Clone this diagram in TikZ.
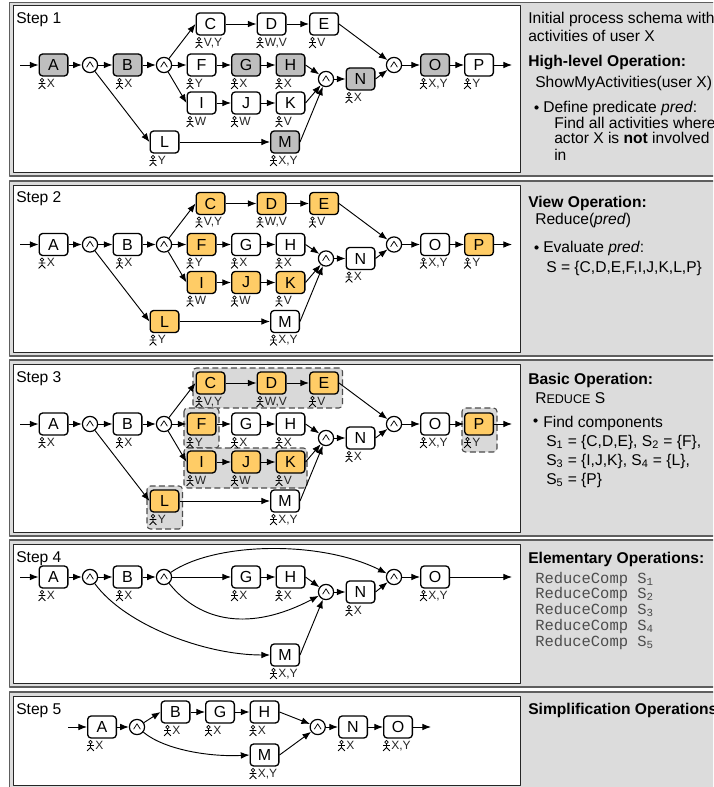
\documentclass[tikz,border=0pt]{standalone}
\usepackage{fontspec}
\setmainfont{Liberation Sans}
\setmonofont{Liberation Mono}
\usetikzlibrary{arrows.meta,calc}
\definecolor{panelgray}{HTML}{DCDCDC}
\definecolor{framegray}{HTML}{5E5E5E}
\definecolor{nodegray}{HTML}{BEBEBE}
\definecolor{nodeorange}{HTML}{FFCC66}
\tikzset{
  every picture/.append style={line join=round},
  outerframe/.style={fill=panelgray,draw=framegray,line width=1.2pt},
  innerframe/.style={fill=white,draw=black!85,line width=.7pt},
  proc/.style={draw=black,line width=1pt,rounded corners=2.6pt,minimum width=21.5pt,minimum height=16.5pt,inner sep=0pt,font=\fontsize{12}{13}\selectfont},
  plainproc/.style={proc,fill=white},
  greyproc/.style={proc,fill=nodegray},
  orangeproc/.style={proc,fill=nodeorange},
  gate/.style={circle,draw=black,line width=.9pt,fill=white,minimum size=11.4pt,inner sep=0pt,
    path picture={\draw[line width=.55pt] ([shift={(-3.4,2.2)}]path picture bounding box.center) -- ([shift={(0,-3.2)}]path picture bounding box.center) -- ([shift={(3.4,2.2)}]path picture bounding box.center);}},
  flow/.style={draw=black,line width=.7pt,-{Latex[length=6.5pt,width=5pt]}},
  comp/.style={fill=black!15,draw=black!70,line width=.8pt,dash pattern=on 4.5pt off 2.5pt,rounded corners=2.6pt},
  acttxt/.style={anchor=base west,inner sep=0pt,text=black!85,font=\fontsize{9}{11}\selectfont},
  steptxt/.style={anchor=base west,inner sep=0pt,font=\fontsize{11.7}{13}\selectfont},
  desc/.style={anchor=base west,inner sep=0pt,font=\fontsize{11.7}{13}\selectfont},
  codetxt/.style={anchor=base west,inner sep=0pt,text=black!70,font=\ttfamily\fontsize{11.6}{13}\selectfont},
  actor/.pic={
    \draw[line width=.55pt,black] (0,-3.4) circle (1.8);
    \draw[line width=.55pt,black] (0,-1.6) -- (0,2) (-3.4,0) -- (3.4,0) (-3.4,5.4) -- (0,2) -- (3.4,5.4);
  }
}
% style, name, x, y, letter, actors, icon offset
\newcommand{\pn}[7]{%
  \node[#1] (#2) at (#3,#4) {#5};
  \pic at ([shift={(#7,18.5)}]#2.west) {actor};
  \node[acttxt] (#2a) at ([shift={(#7+4.6,22.5)}]#2.west) {#6};
}
% id, dy, style of A,B,G,H,M,N,O, style of the others
\newcommand{\fullgraph}[4]{%
\begin{scope}[shift={(0,#2)}]
  \coordinate (#1in) at (20,65);
  \pn{#3}{#1A}{53.5}{65}{A}{X}{3.5}
  \node[gate] (#1g1) at (90,65) {};
  \pn{#3}{#1B}{127.5}{65}{B}{X}{7}
  \node[gate] (#1g2) at (164,65) {};
  \pn{#4}{#1C}{210.5}{24}{C}{V,Y}{3.5}
  \pn{#4}{#1D}{271.5}{24}{D}{W,V}{3.5}
  \pn{#4}{#1E}{324}{24}{E}{V}{3.5}
  \pn{#4}{#1F}{201.5}{65}{F}{Y}{3.5}
  \pn{#3}{#1G}{246}{65}{G}{X}{3.5}
  \pn{#3}{#1H}{290.5}{65}{H}{X}{3.5}
  \pn{#4}{#1I}{201.5}{103}{I}{W}{3.5}
  \pn{#4}{#1J}{246}{103}{J}{W}{3.5}
  \pn{#4}{#1K}{290.5}{103}{K}{V}{3.5}
  \pn{#4}{#1L}{164.5}{142}{L}{Y}{3.5}
  \pn{#3}{#1M}{285}{142}{M}{X,Y}{3.5}
  \node[gate] (#1g3) at (326,79) {};
  \pn{#3}{#1N}{360.5}{79}{N}{X}{3.5}
  \node[gate] (#1g4) at (394,65) {};
  \pn{#3}{#1O}{435}{65}{O}{X,Y}{3.5}
  \pn{#4}{#1P}{479}{65}{P}{Y}{3.5}
  \coordinate (#1out) at (512,65);
  \draw[flow] (#1in) -- (#1A);
  \draw[flow] (#1A) -- (#1g1);
  \draw[flow] (#1g1) -- (#1B);
  \draw[flow] (#1B) -- (#1g2);
  \draw[flow] (#1g1) -- (#1L.west);
  \draw[flow] (#1g2) -- (#1C.west);
  \draw[flow] (#1g2) -- (#1F);
  \draw[flow] (#1g2) -- (#1I.west);
  \draw[flow] (#1C) -- (#1D);
  \draw[flow] (#1D) -- (#1E);
  \draw[flow] (#1F) -- (#1G);
  \draw[flow] (#1G) -- (#1H);
  \draw[flow] (#1I) -- (#1J);
  \draw[flow] (#1J) -- (#1K);
  \draw[flow] (#1L) -- (#1M);
  \draw[flow] (#1H.east) -- (#1g3);
  \draw[flow] (#1K.east) -- (#1g3);
  \draw[flow] (#1M.east) -- (#1g3);
  \draw[flow] (#1g3) -- (#1N);
  \draw[flow] (#1N.east) -- (#1g4);
  \draw[flow] (#1E.east) -- (#1g4);
  \draw[flow] (#1g4) -- (#1O);
  \draw[flow] (#1O) -- (#1P);
  \draw[flow] (#1P) -- (#1out);
\end{scope}}
\begin{document}
\begin{tikzpicture}[x=.75pt,y=-.75pt]
\useasboundingbox (0,0) rectangle (713,787);
\clip (0,0) rectangle (713,787);
% frames
\draw[outerframe] (9.5,2.5) rectangle (725,176);
\draw[innerframe] (13,5.5) rectangle (520,172);
\draw[outerframe] (9.5,181) rectangle (725,356);
\draw[innerframe] (13,185) rectangle (520,352);
\draw[outerframe] (9.5,360) rectangle (725,536);
\draw[innerframe] (13,364) rectangle (520,532);
\draw[outerframe] (9.5,540) rectangle (725,687);
\draw[innerframe] (13,544) rectangle (520,683);
\draw[outerframe] (9.5,692) rectangle (725,795);
\draw[innerframe] (13,696) rectangle (520,785);
% step labels
\node[steptxt] (s1) at (16,24) {Step 1};
\node[steptxt] (s2) at (16,203) {Step 2};
\node[steptxt] (s3) at (16,382) {Step 3};
\node[steptxt] (s4) at (16,562) {Step 4};
\node[steptxt] (s5) at (16,714) {Step 5};
% step 3 component areas
\draw[comp] (193,368) rectangle (342.5,408);
\draw[comp] (184,408) rectangle (219,448);
\draw[comp] (184,448) rectangle (307,488);
\draw[comp] (147,486) rectangle (182.5,529);
\draw[comp] (462,408) rectangle (497,452);
% steps 1 to 3
\fullgraph{a}{0}{greyproc}{plainproc}
\fullgraph{b}{179.5}{plainproc}{orangeproc}
\fullgraph{c}{359}{plainproc}{orangeproc}
% step 4
\coordinate (din) at (20,577);
\pn{plainproc}{dA}{53.5}{577}{A}{X}{3.5}
\node[gate] (dg1) at (90,577) {};
\pn{plainproc}{dB}{127.5}{577}{B}{X}{7}
\node[gate] (dg2) at (164,577) {};
\pn{plainproc}{dG}{246}{577}{G}{X}{3.5}
\pn{plainproc}{dH}{290.5}{577}{H}{X}{3.5}
\pn{plainproc}{dM}{285}{655}{M}{X,Y}{3.5}
\node[gate] (dg3) at (326,592) {};
\pn{plainproc}{dN}{360.5}{592}{N}{X}{3.5}
\node[gate] (dg4) at (394,577) {};
\pn{plainproc}{dO}{435}{577}{O}{X,Y}{3.5}
\coordinate (dout) at (512,577);
\draw[flow] (din) -- (dA);
\draw[flow] (dA) -- (dg1);
\draw[flow] (dg1) -- (dB);
\draw[flow] (dB) -- (dg2);
\draw[flow] (dg2) -- (dG);
\draw[flow] (dG) -- (dH);
\draw[flow] (dH.east) -- (dg3);
\draw[flow] (dM.east) -- (dg3);
\draw[flow] (dg3) -- (dN);
\draw[flow] (dN.east) -- (dg4);
\draw[flow] (dg4) -- (dO);
\draw[flow] (dO) -- (dout);
\draw[flow] (dg2) .. controls (215,542) and (320,540) .. (dg4);
\draw[flow] (dg2) .. controls (200,622) and (250,632) .. (dg3);
\draw[flow] (dg1) .. controls (125,625) and (205,655) .. (dM.west);
% step 5
\coordinate (ein) at (68,727);
\pn{plainproc}{eA}{102}{727}{A}{X}{3.5}
\node[gate] (eg1) at (137,727) {};
\pn{plainproc}{eB}{175.5}{712}{B}{X}{7}
\pn{plainproc}{eG}{220}{712}{G}{X}{3.5}
\pn{plainproc}{eH}{264.5}{712}{H}{X}{3.5}
\pn{plainproc}{eM}{264.5}{755}{M}{X,Y}{3.5}
\node[gate] (eg3) at (317.7,727) {};
\pn{plainproc}{eN}{353}{727}{N}{X}{3.5}
\pn{plainproc}{eO}{398}{727}{O}{X,Y}{3.5}
\coordinate (eout) at (431,727);
\draw[flow] (ein) -- (eA);
\draw[flow] (eA) -- (eg1);
\draw[flow] (eg1) -- (eB.west);
\draw[flow] (eB) -- (eG);
\draw[flow] (eG) -- (eH);
\draw[flow] (eH.east) -- (eg3);
\draw[flow] (eM.east) -- (eg3);
\draw[flow] (eg3) -- (eN);
\draw[flow] (eN) -- (eO);
\draw[flow] (eO) -- (eout);
\draw[flow] (eg1) .. controls (165,750) and (210,757) .. (eM.west);
% right-hand descriptions
\node[desc] (t1) at (528,23.5) {Initial process schema with};
\node[desc] (t2) at (528,42) {activities of user X};
\node[desc] (t3) at (528,67) {\bfseries High-level Operation:};
\node[desc] (t4) at (535,88) {ShowMyActivities(user X)};
\fill (536.5,107.5) circle (2.1);
\node[desc] (t5) at (543,113) {Define predicate \textit{pred}:};
\node[desc] (t6) at (554,128.5) {Find all activities where};
\node[desc] (t7) at (554,144) {actor X is \textbf{not} involved};
\node[desc] (t8) at (554,160.5) {in};
\node[desc] (u1) at (528,207.5) {\bfseries View Operation:};
\node[desc] (u2) at (535,224.5) {Reduce(\textit{pred})};
\fill (536.5,247.5) circle (2.1);
\node[desc] (u3) at (543,253) {Evaluate \textit{pred}:};
\node[desc] (u4) at (546,272.5) {S = \{C,D,E,F,I,J,K,L,P\}};
\node[desc] (v1) at (528,384) {\bfseries Basic Operation:};
\node[desc] (v2) at (535,403.5) {R{\fontsize{9.4}{11}\selectfont EDUCE} S};
\fill (535.5,420.5) circle (2.1);
\node[desc] (v3) at (543,427) {Find components};
\node[desc] (v4) at (546,446.5) {S\textsubscript{1} = \{C,D,E\}, S\textsubscript{2} = \{F\},};
\node[desc] (v5) at (546,465.5) {S\textsubscript{3} = \{I,J,K\}, S\textsubscript{4} = \{L\},};
\node[desc] (v6) at (546,484.5) {S\textsubscript{5} = \{P\}};
\node[desc] (w1) at (528,563.5) {\bfseries Elementary Operations:};
\node[codetxt] (w2) at (535,583) {ReduceComp S\textsubscript{1}};
\node[codetxt] (w3) at (535,598.5) {ReduceComp S\textsubscript{2}};
\node[codetxt] (w4) at (535,614) {ReduceComp S\textsubscript{3}};
\node[codetxt] (w5) at (535,630) {ReduceComp S\textsubscript{4}};
\node[codetxt] (w6) at (535,646) {ReduceComp S\textsubscript{5}};
\node[desc] (x1) at (528,714) {\bfseries Simplification Operations};
\end{tikzpicture}
\end{document}
